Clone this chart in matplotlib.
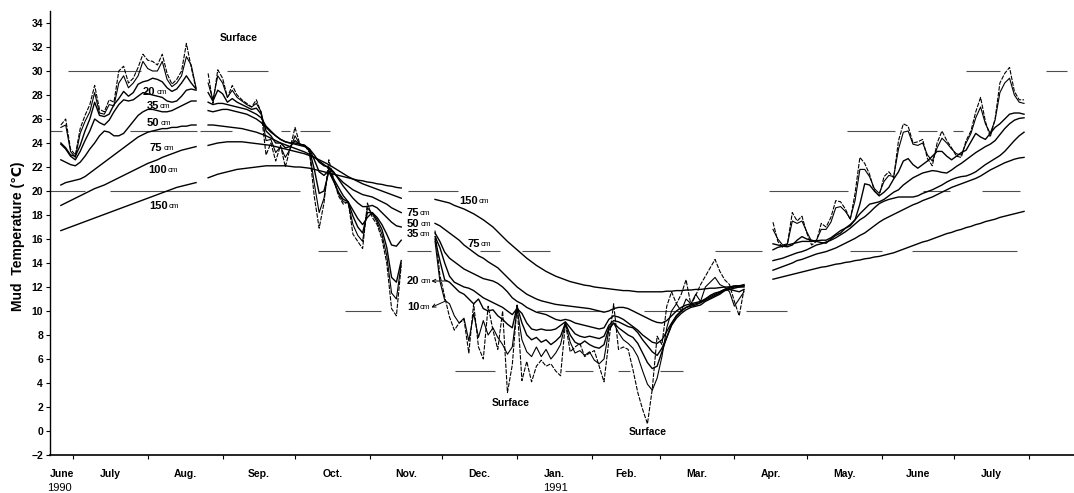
"""Mud temperature at several depths, June 1990 - July 1991."""

import numpy as np
import matplotlib
matplotlib.use('Agg')
import matplotlib.pyplot as plt
import matplotlib.dates as mdates

plt.rcParams['font.family'] = ['Liberation Sans', 'DejaVu Sans']

START = mdates.date2num(np.datetime64('1990-07-01'))


def day(d):
    """days counted from 1 July 1990 -> matplotlib date number"""
    return START + d


# ---- readings, every second day (four recording periods) ----
dates_a = np.arange('1990-06-26', '1990-08-23', 2, dtype='datetime64[D]')
surf_a = [25.5, 26.0, 23.5, 23.0, 25.2, 26.3, 27.2, 28.8, 26.8, 26.6, 27.6, 27.4, 30.0, 30.4, 29.0,
          29.4, 30.3, 31.4, 30.9, 30.8, 30.5, 31.4, 29.8, 28.9, 29.3, 30.0, 32.3, 30.3, 28.5]
cm10_a = [25.3, 25.5, 23.3, 22.8, 24.8, 25.8, 26.6, 28.2, 26.5, 26.4, 27.2, 27.1, 29.0, 29.6, 28.6,
          29.0, 29.6, 30.8, 30.2, 30.0, 30.0, 30.8, 29.3, 28.7, 29.0, 29.6, 31.2, 30.5, 28.6]
cm20_a = [24.0, 23.6, 23.0, 22.9, 23.8, 25.0, 26.0, 27.4, 26.3, 26.2, 26.4, 27.2, 27.7, 28.3, 27.9,
          28.2, 28.9, 29.1, 29.2, 29.4, 29.3, 29.1, 28.6, 28.3, 28.5, 29.0, 29.6, 29.0, 28.5]
cm35_a = [23.9, 23.5, 22.9, 22.6, 23.3, 24.2, 25.0, 26.0, 25.7, 25.5, 25.9, 26.6, 27.2, 27.6, 27.5,
          27.6, 27.9, 28.2, 28.1, 28.0, 27.9, 27.8, 27.5, 27.4, 27.5, 27.9, 28.4, 28.5, 28.4]
cm50_a = [22.6, 22.4, 22.2, 22.1, 22.4, 22.9, 23.5, 24.0, 24.6, 25.0, 24.9, 24.6, 24.6, 24.8, 25.3,
          25.8, 26.3, 26.6, 26.8, 26.8, 26.7, 26.6, 26.6, 26.7, 26.9, 27.1, 27.3, 27.5, 27.5]
cm75_a = [20.5, 20.7, 20.8, 20.9, 21.0, 21.2, 21.5, 21.8, 22.1, 22.4, 22.7, 23.0, 23.3, 23.6, 23.9,
          24.2, 24.5, 24.7, 24.9, 25.0, 25.1, 25.2, 25.2, 25.3, 25.3, 25.4, 25.4, 25.5, 25.5]
cm100_a = [18.8, 19.0, 19.2, 19.4, 19.6, 19.8, 20.0, 20.2, 20.35, 20.5, 20.7, 20.9, 21.1, 21.3, 21.5,
           21.7, 21.9, 22.1, 22.3, 22.45, 22.6, 22.8, 22.95, 23.1, 23.25, 23.4, 23.5, 23.6, 23.7]
cm150_a = [16.7, 16.85, 17.0, 17.15, 17.3, 17.45, 17.6, 17.75, 17.9, 18.05, 18.2, 18.35, 18.5, 18.65, 18.8,
           18.95, 19.1, 19.25, 19.4, 19.55, 19.7, 19.85, 20.0, 20.15, 20.3, 20.4, 20.5, 20.6, 20.7]

dates_b = np.arange('1990-08-26', '1990-11-16', 2, dtype='datetime64[D]')
surf_b = [29.8, 27.3, 30.1, 29.4, 27.8, 28.8, 28.0, 27.6, 27.3, 27.0, 27.6, 26.5, 23.0, 24.0, 22.5,
          23.8, 22.0, 23.6, 25.3, 23.9, 23.8, 23.2, 19.5, 16.9, 19.0, 22.6, 21.0, 19.6, 18.9, 19.1,
          16.4, 15.8, 15.2, 19.0, 17.8, 17.2, 16.0, 14.0, 10.2, 9.6, 13.8]
cm10_b = [29.0, 27.6, 29.6, 29.0, 27.8, 28.4, 27.8, 27.5, 27.2, 27.0, 27.3, 26.6, 24.2, 24.3, 23.2,
          23.7, 22.8, 23.5, 24.6, 23.9, 23.8, 23.3, 20.6, 18.2, 19.4, 22.0, 20.9, 19.8, 19.1, 19.0,
          17.2, 16.3, 15.8, 18.6, 18.1, 17.4, 16.4, 14.6, 11.5, 11.0, 14.0]
cm20_b = [28.2, 27.5, 28.4, 28.1, 27.4, 27.7, 27.4, 27.2, 27.0, 26.8, 26.9, 26.4, 25.0, 24.6, 24.0,
          24.0, 23.6, 23.7, 24.2, 23.9, 23.8, 23.4, 21.8, 19.8, 20.0, 21.6, 20.8, 19.9, 19.3, 19.1,
          17.9, 17.0, 16.5, 18.2, 18.2, 17.6, 16.8, 15.3, 12.8, 12.4, 14.2]
cm35_b = [27.4, 27.2, 27.3, 27.3, 27.2, 27.1, 27.0, 26.9, 26.8, 26.6, 26.4, 26.1, 25.4, 25.0, 24.6,
          24.3, 24.1, 24.0, 24.0, 23.9, 23.8, 23.5, 22.6, 21.6, 21.3, 21.7, 21.0, 20.3, 19.6, 19.1,
          18.4, 17.7, 17.2, 17.8, 18.2, 17.8, 17.2, 16.4, 15.5, 15.4, 15.9]
cm50_b = [26.7, 26.6, 26.7, 26.8, 26.8, 26.7, 26.6, 26.5, 26.4, 26.2, 26.0, 25.7, 25.3, 24.9, 24.6,
          24.3, 24.1, 24.0, 23.9, 23.8, 23.7, 23.5, 23.0, 22.4, 22.1, 22.0, 21.6, 21.0, 20.4, 19.9,
          19.4, 19.0, 18.7, 18.7, 18.8, 18.6, 18.2, 17.8, 17.4, 17.1, 17.0]
cm75_b = [25.5, 25.5, 25.45, 25.4, 25.35, 25.3, 25.25, 25.2, 25.1, 25.0, 24.9, 24.75, 24.6, 24.4, 24.2,
          24.0, 23.85, 23.7, 23.55, 23.4, 23.25, 23.05, 22.8, 22.5, 22.2, 21.9, 21.5, 21.1, 20.7, 20.4,
          20.1, 19.9, 19.7, 19.6, 19.5, 19.3, 19.1, 18.9, 18.6, 18.4, 18.2]
cm100_b = [23.8, 23.9, 24.0, 24.05, 24.1, 24.1, 24.1, 24.1, 24.05, 24.0, 23.95, 23.9, 23.85, 23.8, 23.7,
           23.6, 23.5, 23.4, 23.3, 23.2, 23.1, 22.95, 22.8, 22.6, 22.4, 22.2, 21.95, 21.7, 21.45, 21.2,
           21.0, 20.8, 20.6, 20.45, 20.3, 20.15, 20.0, 19.85, 19.7, 19.55, 19.4]
cm150_b = [21.1, 21.25, 21.4, 21.5, 21.6, 21.7, 21.8, 21.85, 21.9, 21.95, 22.0, 22.05, 22.1, 22.1, 22.1,
           22.1, 22.1, 22.05, 22.0, 22.0, 21.95, 21.9, 21.8, 21.7, 21.6, 21.5, 21.4, 21.3, 21.2, 21.1,
           21.0, 20.9, 20.85, 20.75, 20.7, 20.6, 20.55, 20.45, 20.4, 20.3, 20.25]

dates_c = np.arange('1990-11-28', '1991-04-07', 2, dtype='datetime64[D]')
surf_c = [16.7, 13.0, 11.2, 9.5, 8.4, 9.0, 9.3, 6.5, 10.6, 7.0, 6.0, 10.4, 8.4, 6.8, 10.0,
          3.2, 5.5, 10.5, 4.2, 5.8, 4.1, 5.4, 5.9, 5.4, 5.6,
          5.0, 4.6, 9.0, 6.6, 7.0, 7.3, 6.2, 6.5, 6.7, 5.4, 4.1, 7.5, 10.6, 6.8, 7.0,
          6.8, 5.1, 3.2, 1.8, 0.6, 3.5, 7.9, 7.2, 10.4, 11.6,
          10.6, 11.4, 12.6, 10.5, 11.3, 12.2, 12.9, 13.6, 14.3, 13.3, 12.6, 12.2, 10.8, 9.6, 11.8]
cm10_c = [15.8, 12.5, 10.9, 10.6, 9.6, 9.0, 9.4, 7.5, 9.8, 7.8, 9.2, 8.0, 8.6, 7.8, 7.2,
          6.4, 7.0, 10.2, 7.6, 6.6, 6.2, 7.0, 6.2, 6.8, 6.0,
          6.5, 7.2, 9.0, 7.4, 6.5, 6.7, 6.3, 6.6, 5.9, 5.6, 6.0, 8.4, 9.0, 8.2, 7.6,
          7.3, 6.9, 6.2, 5.0, 3.9, 3.4, 4.4, 6.2, 8.6, 10.0,
          10.6, 10.0, 11.0, 10.6, 11.4, 10.8, 12.0, 12.4, 12.8, 12.2, 12.0, 11.6, 10.4, 11.0, 11.6]
cm20_c = [16.0, 14.2, 12.6, 12.4, 12.0, 11.6, 11.4, 11.0, 10.6, 11.0, 10.2, 10.0, 10.1, 9.6, 9.3,
          8.9, 8.6, 10.4, 9.0, 8.0, 7.6, 7.8, 7.4, 7.6, 7.2,
          7.5, 7.9, 9.0, 8.0, 7.4, 7.2, 7.5, 7.2, 7.0, 6.9, 7.2, 8.6, 9.0, 8.6, 8.3,
          8.0, 7.8, 7.3, 6.5, 5.7, 5.2, 5.4, 6.6, 7.8, 8.9,
          9.6, 10.0, 10.3, 10.4, 10.5, 10.7, 11.0, 11.3, 11.5, 11.6, 11.8, 11.8, 11.7, 11.6, 11.8]
cm35_c = [16.2, 15.3, 14.0, 12.9, 12.4, 12.2, 12.0, 11.9, 11.7, 11.4, 11.1, 10.9, 10.7, 10.5, 10.3,
          10.0, 9.7, 10.2, 9.8, 9.0, 8.5, 8.4, 8.5, 8.4, 8.4,
          8.5, 8.8, 9.1, 8.6, 8.1, 7.9, 7.8, 7.9, 7.8, 7.7, 7.9, 8.8, 9.2, 9.1, 8.9,
          8.7, 8.6, 8.2, 7.6, 7.1, 6.6, 6.3, 6.9, 7.8, 8.8,
          9.4, 9.8, 10.1, 10.3, 10.4, 10.5, 10.8, 11.0, 11.2, 11.4, 11.7, 11.8, 11.9, 12.0, 12.0]
cm50_c = [16.5, 15.8, 14.9, 14.4, 14.1, 13.8, 13.5, 13.3, 13.1, 12.9, 12.7, 12.6, 12.5, 12.3, 12.0,
          11.6, 11.1, 10.8, 10.6, 10.3, 10.1, 9.9, 9.8, 9.7, 9.5,
          9.3, 9.2, 9.3, 9.2, 9.0, 8.9, 8.8, 8.7, 8.6, 8.5, 8.6, 9.3, 9.6, 9.5, 9.3,
          9.0, 8.7, 8.4, 8.0, 7.7, 7.4, 7.3, 7.6, 8.3, 9.0,
          9.6, 10.0, 10.3, 10.5, 10.6, 10.7, 10.9, 11.1, 11.3, 11.5, 11.7, 11.9, 12.0, 12.0, 12.1]
cm75_c = [17.3, 17.1, 16.8, 16.5, 16.2, 15.9, 15.5, 15.2, 14.9, 14.6, 14.4, 14.1, 13.85, 13.6, 13.2,
          12.8, 12.4, 12.0, 11.7, 11.4, 11.2, 11.0, 10.85, 10.75, 10.65,
          10.55, 10.5, 10.45, 10.4, 10.35, 10.3, 10.25, 10.2, 10.1, 10.0, 9.9, 10.0, 10.2, 10.3, 10.3,
          10.2, 10.0, 9.8, 9.6, 9.4, 9.2, 9.05, 9.0, 9.2, 9.6,
          10.0, 10.3, 10.5, 10.6, 10.7, 10.8, 11.0, 11.2, 11.4, 11.6, 11.8, 12.0, 12.1, 12.1, 12.2]
cm150_c = [19.3, 19.2, 19.1, 19.0, 18.8, 18.65, 18.5, 18.3, 18.1, 17.85, 17.6, 17.3, 17.0, 16.6, 16.2,
           15.8, 15.45, 15.1, 14.75, 14.4, 14.1, 13.8, 13.55, 13.3, 13.1,
           12.9, 12.75, 12.6, 12.45, 12.35, 12.25, 12.15, 12.1, 12.0, 11.95, 11.9, 11.85, 11.8, 11.75, 11.7,
           11.7, 11.65, 11.6, 11.6, 11.6, 11.6, 11.6, 11.6, 11.65, 11.65,
           11.7, 11.7, 11.75, 11.75, 11.8, 11.8, 11.85, 11.9, 11.9, 11.95, 12.0, 12.0, 12.05, 12.1, 12.1]

dates_d = np.arange('1991-04-17', '1991-08-01', 2, dtype='datetime64[D]')
surf_d = [17.4, 15.8, 15.3, 15.6, 18.2, 17.5, 17.9, 16.5, 15.5, 15.8, 17.3, 17.0, 17.8, 19.2, 19.1,
          18.5, 17.6, 19.8, 22.8, 22.3, 21.4, 20.0, 19.6, 21.2, 21.6, 21.1,
          24.2, 25.6, 25.4, 24.0, 24.1, 24.3, 22.7, 22.1, 24.0, 25.0, 24.2, 23.6, 22.9, 22.8,
          24.2, 25.0, 26.6, 27.8, 25.8, 24.5, 26.0, 29.0, 29.8, 30.3, 28.3, 27.6, 27.6]
cm10_d = [16.8, 16.0, 15.5, 15.6, 17.5, 17.3, 17.5, 16.6, 15.8, 15.9, 16.8, 16.8, 17.4, 18.6, 18.7,
          18.3, 17.7, 19.2, 21.8, 21.8, 21.2, 20.2, 19.8, 20.8, 21.3, 21.2,
          23.5, 24.9, 25.0, 23.9, 23.8, 24.0, 23.0, 22.5, 23.6, 24.4, 24.0, 23.5, 23.1, 23.0,
          24.0, 24.8, 26.1, 27.0, 25.6, 24.8, 25.9, 28.2, 29.0, 29.4, 28.0, 27.4, 27.3]
cm20_d = [15.6, 15.5, 15.4, 15.35, 15.5, 15.9, 16.2, 16.0, 15.9, 15.8, 15.7, 15.65, 16.0, 16.3, 16.5,
          16.9, 17.2, 17.6, 18.9, 20.6, 20.5, 20.0, 19.6, 19.9, 20.3, 21.0,
          21.6, 22.5, 22.7, 22.2, 21.9, 22.2, 22.5, 22.9, 23.3, 23.3, 22.9, 22.6, 22.9, 23.2,
          23.4, 24.1, 24.8, 24.5, 24.3, 24.8, 25.3, 25.6, 26.0, 26.4, 26.5, 26.5, 26.4]
cm35_d = [15.1, 15.3, 15.4, 15.5, 15.6, 15.7, 15.8, 15.8, 15.8, 15.85, 15.9, 15.9, 16.1, 16.4, 16.7,
          16.9, 17.1, 17.6, 18.1, 18.5, 18.9, 19.0, 19.1, 19.3, 19.6, 19.9,
          20.1, 20.5, 20.8, 21.1, 21.3, 21.5, 21.6, 21.7, 21.65, 21.55, 21.5, 21.75, 22.05, 22.3,
          22.6, 22.9, 23.2, 23.45, 23.7, 23.9, 24.2, 24.7, 25.2, 25.6, 25.9, 26.05, 26.1]
cm50_d = [14.2, 14.3, 14.4, 14.55, 14.7, 14.85, 14.95, 15.1, 15.3, 15.5, 15.6, 15.75, 15.9, 16.1, 16.35,
          16.6, 16.9, 17.25, 17.6, 17.85, 18.2, 18.6, 18.95, 19.15, 19.3, 19.4,
          19.5, 19.5, 19.5, 19.5, 19.6, 19.8, 19.95, 20.1, 20.3, 20.5, 20.75, 20.95, 21.1, 21.2,
          21.25, 21.4, 21.6, 21.9, 22.2, 22.45, 22.7, 22.95, 23.3, 23.75, 24.2, 24.6, 24.9]
cm75_d = [13.4, 13.55, 13.7, 13.85, 14.0, 14.2, 14.3, 14.45, 14.6, 14.75, 14.85, 14.95, 15.1, 15.25, 15.45,
          15.65, 15.85, 16.05, 16.3, 16.5, 16.8, 17.1, 17.4, 17.65, 17.85, 18.05,
          18.25, 18.45, 18.65, 18.85, 19.0, 19.2, 19.35, 19.5, 19.7, 19.9, 20.1, 20.3, 20.45, 20.6,
          20.75, 20.9, 21.05, 21.25, 21.5, 21.75, 21.95, 22.15, 22.35, 22.5, 22.65, 22.75, 22.8]
cm150_d = [12.65, 12.75, 12.85, 12.95, 13.05, 13.15, 13.25, 13.35, 13.45, 13.55, 13.65, 13.7, 13.8, 13.9, 13.95,
           14.05, 14.1, 14.2, 14.25, 14.35, 14.4, 14.5, 14.55, 14.65, 14.75, 14.85,
           15.0, 15.15, 15.3, 15.45, 15.6, 15.75, 15.85, 16.0, 16.15, 16.3, 16.45, 16.55, 16.7, 16.8,
           16.95, 17.05, 17.2, 17.3, 17.45, 17.55, 17.65, 17.8, 17.9, 18.0, 18.1, 18.2, 18.3]

# broken reference lines every 5 degrees: (temperature, from day, to day), days from 1 July 1990
guide_segments = [
    (30, -2, 28), (30, 64, 81), (30, 370, 384), (30, 403, 412),
    (25, -9.5, -4.6), (25, 23.6, 51.4), (25, 52.6, 66), (25, 86, 90), (25, 94, 106.5),
    (25, 320.6, 340.5), (25, 350, 358), (25, 364.5, 368.7),
    (20, -9.5, 5), (20, 15.3, 94), (20, 138.8, 159.5), (20, 288.3, 321), (20, 352, 363.3), (20, 376.6, 392.3),
    (15, 101.5, 113.5), (15, 138.4, 148.3), (15, 168.6, 176.9), (15, 186, 197.6), (15, 266, 285.4),
    (15, 322, 335), (15, 347.6, 391),
    (10, 112.7, 127.6), (10, 192.2, 219.6), (10, 236.5, 252.7), (10, 263, 272.2), (10, 278.8, 295.8),
    (5, 158.2, 174.8), (5, 203.8, 215.4), (5, 225.8, 230.7), (5, 243.2, 252.7),
]

month_names = ['June', 'July', 'Aug.', 'Sep.', 'Oct.', 'Nov.', 'Dec.', 'Jan.',
               'Feb.', 'Mar.', 'Apr.', 'May.', 'June', 'July']

periods = [
    (dates_a, [surf_a, cm10_a, cm20_a, cm35_a, cm50_a, cm75_a, cm100_a, cm150_a]),
    (dates_b, [surf_b, cm10_b, cm20_b, cm35_b, cm50_b, cm75_b, cm100_b, cm150_b]),
    (dates_c, [surf_c, cm10_c, cm20_c, cm35_c, cm50_c, cm75_c, cm150_c]),
    (dates_d, [surf_d, cm10_d, cm20_d, cm35_d, cm50_d, cm75_d, cm150_d]),
]

fig = plt.figure(figsize=(10.74, 4.93), dpi=100)
ax = fig.add_axes([50 / 1074, 38 / 493, 1 - 50 / 1074, 444 / 493])

for t, d0, d1 in guide_segments:
    ax.hlines(t, day(d0), day(d1), color='0.3', lw=0.8)

for dates, series in periods:
    x = mdates.date2num(dates)
    for i, vals in enumerate(series):
        if i == 0:
            # surface: broken line
            ax.plot(x, vals, color='black', lw=0.8, dashes=(4, 1.2))
        elif i == 1:
            ax.plot(x, vals, color='black', lw=0.8)
        else:
            ax.plot(x, vals, color='black', lw=1.0)


def depth_label(d, t, num, size=8):
    txt = ax.text(day(d), t, num, fontsize=size, fontweight='bold', ha='left', va='center')
    ax.annotate('cm', xy=(1, 0.1), xycoords=txt, xytext=(0.5, 0), textcoords='offset points',
                fontsize=size * 0.72, ha='left', va='bottom')


for d, t, num in [(29, 28.25, '20'), (30.7, 27.1, '35'), (30.7, 25.7, '50'), (31.9, 23.6, '75'),
                  (31.1, 21.75, '100'), (31.5, 18.75, '150'),
                  (138, 18.2, '75'), (138.4, 17.25, '50'), (138.4, 16.4, '35'),
                  (138.4, 12.5, '20'), (138.4, 10.3, '10'),
                  (159.9, 19.2, '150'), (163.6, 15.6, '75')]:
    depth_label(d, t, num)

# leaders for the 20 and 10 cm labels
ax.annotate('', xy=(day(148.5), 12.5), xytext=(day(155), 12.5),
            arrowprops=dict(arrowstyle='->', lw=0.7, shrinkA=0, shrinkB=0, mutation_scale=6))
ax.annotate('', xy=(day(148.5), 10.3), xytext=(day(154), 10.8),
            arrowprops=dict(arrowstyle='->', lw=0.7, shrinkA=0, shrinkB=0, mutation_scale=6))

for d, t in [(68.8, 32.75), (181.4, 2.35), (238.2, -0.1)]:
    ax.text(day(d), t, 'Surface', fontsize=7.5, fontweight='bold', ha='center', va='center')

ax.set_xlim(day(-9.5), day(414.7))
ax.set_ylim(-2, 35)

ax.spines['top'].set_visible(False)
ax.spines['right'].set_visible(False)
ax.spines['left'].set_linewidth(1.0)
ax.spines['bottom'].set_linewidth(1.2)

ax.set_yticks(np.arange(-2, 35, 2))
ax.tick_params(axis='y', direction='out', length=3, width=0.8, pad=2, labelsize=7.5)
for lab in ax.get_yticklabels():
    lab.set_fontweight('bold')

ax.xaxis.set_major_locator(mdates.MonthLocator())
ax.tick_params(axis='x', direction='out', length=3, width=0.8, labelbottom=False)

months = np.arange('1990-06', '1991-08', dtype='datetime64[M]')
m_start = mdates.date2num(months.astype('datetime64[D]'))
m_end = mdates.date2num((months + 1).astype('datetime64[D]'))
m_mid = (m_start + m_end) / 2
m_mid[0] = day(-4.6)
for xm, name in zip(m_mid, month_names):
    ax.text(xm, -3.6, name, fontsize=7.5, fontweight='bold', ha='center', va='center', clip_on=False)

ax.text(day(-5.4), -4.75, '1990', fontsize=8, ha='center', va='center', clip_on=False)
ax.text(day(199.7), -4.75, '1991', fontsize=8, ha='center', va='center', clip_on=False)

fig.text(0.017, 0.52, 'Mud  Temperature (℃)', rotation=90, fontsize=10, fontweight='bold',
         ha='center', va='center')

fig.savefig('out.png', dpi=100)
